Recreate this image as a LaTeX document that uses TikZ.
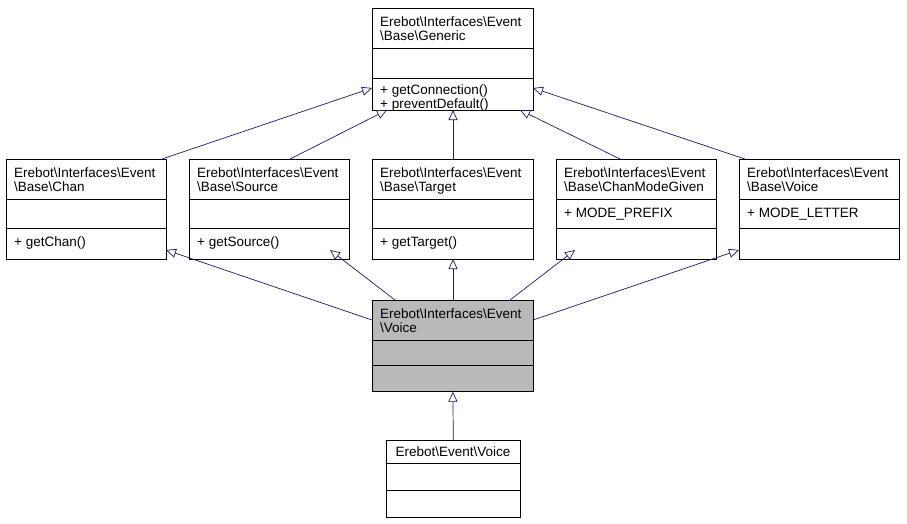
\documentclass[tikz,border=0pt]{standalone}
\usepackage{fontspec}
\setmainfont{Liberation Sans}
\usetikzlibrary{arrows.meta}
\begin{document}
\begin{tikzpicture}[x=1pt,y=-1pt,
  box/.style={draw=black,line width=0.7pt,inner sep=0pt,anchor=north west},
  txt/.style={anchor=base west,inner sep=0pt,font=\fontsize{13.5}{14}\selectfont,align=left},
  inh/.style={draw={rgb,255:red,25;green,25;blue,112},line width=0.7pt,-{Triangle[open,length=10pt,width=9pt,fill=white]}}]
\useasboundingbox (0,0) rectangle (907,523);
\newcommand{\mkbox}[8]{%
 \node[box,minimum width=#3,minimum height=#4,fill=#8] (#1) at (#2) {};
 \draw[line width=0.7pt] ([yshift=#5]#1.north west) -- ([yshift=#5]#1.north east);
 \draw[line width=0.7pt] ([yshift=#6]#1.north west) -- ([yshift=#6]#1.north east);
 \node[txt] (#1t) at ([xshift=8,yshift=-32]#1.north west) {#7};}
\mkbox{gen}{372,8}{161pt}{102pt}{-40pt}{-70pt}{Erebot\textbackslash Interfaces\textbackslash Event\\\textbackslash Base\textbackslash Generic}{white}
\node[txt] (genm) at (380,108) {+ getConnection()\\+ preventDefault()};
\mkbox{chan}{6,159}{160pt}{100pt}{-40pt}{-69pt}{Erebot\textbackslash Interfaces\textbackslash Event\\\textbackslash Base\textbackslash Chan}{white}
\node[txt] (chanm) at (14,246) {+ getChan()};
\mkbox{src}{189,159}{160pt}{100pt}{-40pt}{-69pt}{Erebot\textbackslash Interfaces\textbackslash Event\\\textbackslash Base\textbackslash Source}{white}
\node[txt] (srcm) at (197,246) {+ getSource()};
\mkbox{tgt}{372,159}{161pt}{100pt}{-40pt}{-69pt}{Erebot\textbackslash Interfaces\textbackslash Event\\\textbackslash Base\textbackslash Target}{white}
\node[txt] (tgtm) at (380,246) {+ getTarget()};
\mkbox{cmg}{556,159}{160pt}{100pt}{-40pt}{-69pt}{Erebot\textbackslash Interfaces\textbackslash Event\\\textbackslash Base\textbackslash ChanModeGiven}{white}
\node[txt] (cmga) at (564,217) {+ MODE\_PREFIX};
\mkbox{bv}{739,159}{160pt}{100pt}{-40pt}{-69pt}{Erebot\textbackslash Interfaces\textbackslash Event\\\textbackslash Base\textbackslash Voice}{white}
\node[txt] (bva) at (747,217) {+ MODE\_LETTER};
\mkbox{mid}{372,300}{161pt}{91pt}{-40pt}{-65pt}{Erebot\textbackslash Interfaces\textbackslash Event\\\textbackslash Voice}{gray!55}
\mkbox{bot}{386,440}{134pt}{77pt}{-23pt}{-50pt}{}{white}
\node[anchor=center,inner sep=0pt,font=\fontsize{13.5}{14}\selectfont] (bott) at (453,452) {Erebot\textbackslash Event\textbackslash Voice};
\coordinate (g1) at (372,88); \coordinate (g2) at (387,110); \coordinate (g3) at (453,110);
\coordinate (g4) at (520,110); \coordinate (g5) at (533,88);
\draw[inh] (162,159) -- (g1);
\draw[inh] (290,159) -- (g2);
\draw[inh] (453,159) -- (g3);
\draw[inh] (620,159) -- (g4);
\draw[inh] (745,159) -- (g5);
\draw[inh] (372,320) -- (166,250);
\draw[inh] (395,300) -- (330,250);
\draw[inh] (453,300) -- (453,259);
\draw[inh] (510,300) -- (575,250);
\draw[inh] (533,320) -- (739,250);
\draw[inh] (bot.north) -- (mid.south);
\end{tikzpicture}
\end{document}
